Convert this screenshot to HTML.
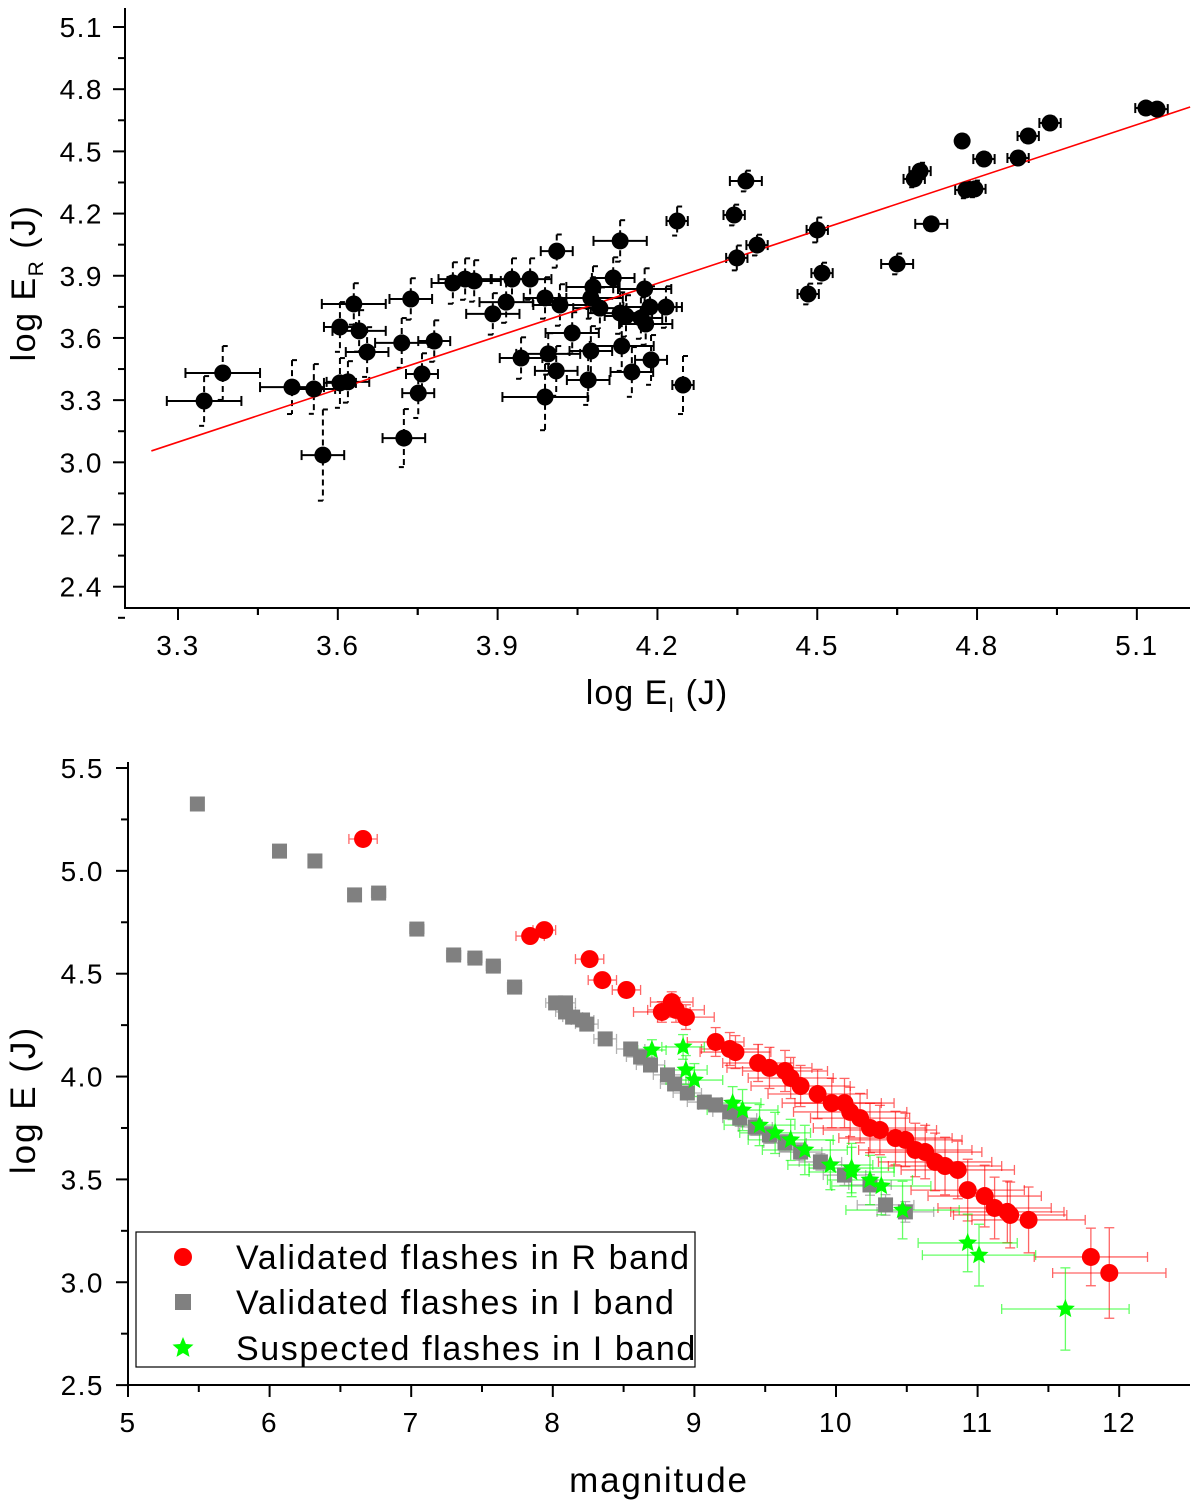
<!DOCTYPE html>
<html><head><meta charset="utf-8"><style>
body{margin:0;background:#fff}
svg text{font-family:"Liberation Sans",Arial,sans-serif;fill:#000}
</style></head><body>
<svg id="svg" width="1200" height="1507" viewBox="0 0 1200 1507" xmlns="http://www.w3.org/2000/svg">
<g id="top"></g>
<g id="bot"></g>
</svg>
<script>
// ---- top chart data ----
const topX=[3.349,3.384,3.514,3.555,3.572,3.604,3.619,3.604,3.630,3.640,3.655,3.720,3.724,3.737,3.751,3.758,3.781,3.816,3.839,3.856,3.891,3.916,3.927,3.944,3.961,3.989,3.989,4.010,3.995,4.011,4.017,4.040,4.070,4.075,4.075,4.079,4.092,4.117,4.130,4.133,4.130,4.152,4.141,4.169,4.176,4.178,4.186,4.188,4.216,4.237,4.248,4.344,4.349,4.366,4.387,4.483,4.500,4.509,4.650,4.682,4.693,4.714,4.772,4.779,4.796,4.813,4.877,4.896,4.937,5.117,5.138];
const topY=[3.296,3.431,3.363,3.354,3.035,3.383,3.388,3.653,3.764,3.634,3.532,3.576,3.117,3.788,3.334,3.426,3.585,3.865,3.884,3.875,3.716,3.773,3.884,3.503,3.884,3.793,3.315,3.441,3.523,4.019,3.759,3.624,3.397,3.537,3.793,3.846,3.744,3.889,4.068,3.561,3.720,3.436,3.706,3.696,3.836,3.667,3.749,3.494,3.749,4.164,3.373,4.193,3.986,4.357,4.048,3.812,4.121,3.913,3.957,4.367,4.405,4.150,4.550,4.314,4.319,4.463,4.468,4.574,4.637,4.709,4.704];
const topXErr=[0.07,0.07,0.06,0.04,0.04,0.03,0.04,0.03,0.06,0.05,0.04,0.05,0.04,0.04,0.03,0.03,0.03,0.04,0.05,0.05,0.05,0.05,0.04,0.04,0.04,0.04,0.08,0.04,0.06,0.03,0.05,0.05,0.04,0.04,0.06,0.05,0.05,0.04,0.05,0.06,0.06,0.04,0.04,0.04,0.05,0.05,0.05,0.03,0.03,0.02,0.02,0.02,0.02,0.03,0.02,0.02,0.02,0.02,0.03,0.02,0.02,0.03,0.01,0.02,0.02,0.02,0.02,0.02,0.02,0.02,0.02];
const topYErr=[0.12,0.13,0.13,0.12,0.22,0.12,0.10,0.12,0.10,0.10,0.12,0.12,0.14,0.10,0.12,0.10,0.10,0.10,0.10,0.10,0.10,0.10,0.10,0.10,0.10,0.10,0.16,0.12,0.10,0.08,0.10,0.10,0.12,0.12,0.10,0.10,0.10,0.10,0.10,0.12,0.10,0.12,0.10,0.10,0.10,0.10,0.10,0.12,0.10,0.07,0.14,0.05,0.06,0.05,0.05,0.05,0.06,0.05,0.05,0.04,0.04,0.03,0.03,0.04,0.04,0.03,0.03,0.03,0.03,0.02,0.02];
const fitX=[3.25,5.2];
const fitY=[3.055,4.714];
const topXTicks=[3.3,3.6,3.9,4.2,4.5,4.8,5.1];
const topYTicks=[2.4,2.7,3.0,3.3,3.6,3.9,4.2,4.5,4.8,5.1];
// ---- bottom chart data ----
const redX=[6.66,7.84,7.94,8.26,8.35,8.52,8.77,8.84,8.87,8.94,9.15,9.25,9.29,9.45,9.53,9.64,9.68,9.75,9.87,9.97,10.06,10.10,10.17,10.24,10.31,10.42,10.49,10.56,10.63,10.70,10.77,10.86,10.93,11.05,11.12,11.21,11.23,11.36,11.80,11.93];
const redY=[5.155,4.683,4.712,4.571,4.469,4.421,4.314,4.362,4.324,4.289,4.168,4.134,4.119,4.066,4.042,4.027,3.993,3.954,3.915,3.871,3.871,3.828,3.798,3.750,3.740,3.701,3.692,3.643,3.633,3.585,3.565,3.546,3.448,3.419,3.361,3.342,3.327,3.303,3.123,3.045];
const redXErr=[0.1,0.1,0.08,0.1,0.1,0.1,0.2,0.15,0.2,0.2,0.2,0.2,0.25,0.25,0.3,0.3,0.3,0.35,0.35,0.35,0.35,0.4,0.35,0.4,0.4,0.4,0.4,0.4,0.4,0.4,0.4,0.4,0.4,0.4,0.4,0.4,0.4,0.4,0.4,0.4];
const redYErr=[0.02,0.02,0.02,0.03,0.03,0.03,0.05,0.05,0.06,0.06,0.07,0.08,0.08,0.09,0.1,0.1,0.1,0.1,0.12,0.12,0.12,0.12,0.12,0.12,0.12,0.13,0.13,0.13,0.13,0.14,0.14,0.14,0.15,0.15,0.15,0.15,0.16,0.16,0.14,0.22];
const grayX=[5.49,6.07,6.32,6.60,6.77,7.04,7.30,7.45,7.58,7.73,8.02,8.09,8.09,8.14,8.21,8.24,8.37,8.55,8.62,8.69,8.81,8.86,8.95,9.07,9.15,9.25,9.32,9.43,9.53,9.64,9.75,9.89,10.06,10.24,10.35,10.49];
const grayY=[5.325,5.096,5.048,4.883,4.892,4.717,4.591,4.576,4.537,4.435,4.358,4.358,4.314,4.289,4.275,4.255,4.183,4.134,4.095,4.056,4.008,3.964,3.920,3.876,3.862,3.828,3.798,3.755,3.716,3.677,3.633,3.585,3.521,3.473,3.376,3.342];
const grayXErr=[0.03,0.03,0.03,0.03,0.05,0.05,0.05,0.05,0.05,0.05,0.07,0.07,0.07,0.07,0.08,0.08,0.08,0.1,0.1,0.1,0.1,0.1,0.1,0.12,0.12,0.12,0.12,0.12,0.15,0.15,0.15,0.15,0.15,0.15,0.2,0.2];
const grayYErr=[0.01,0.01,0.01,0.01,0.01,0.01,0.01,0.01,0.01,0.01,0.02,0.02,0.02,0.02,0.02,0.02,0.02,0.02,0.03,0.03,0.03,0.03,0.03,0.03,0.03,0.03,0.04,0.04,0.04,0.04,0.04,0.04,0.05,0.05,0.05,0.05];
const greenX=[8.70,8.92,8.94,9.00,9.27,9.34,9.46,9.57,9.68,9.78,9.96,10.11,10.11,10.24,10.32,10.47,10.93,11.01,11.62];
const greenY=[4.129,4.144,4.032,3.983,3.871,3.837,3.764,3.726,3.692,3.643,3.570,3.536,3.555,3.497,3.468,3.351,3.191,3.132,2.870];
const greenXErr=[0.1,0.15,0.15,0.2,0.2,0.25,0.25,0.25,0.3,0.3,0.3,0.3,0.3,0.3,0.35,0.4,0.35,0.4,0.45];
const greenYErr=[0.05,0.06,0.07,0.08,0.08,0.1,0.1,0.1,0.1,0.12,0.12,0.12,0.12,0.12,0.14,0.14,0.14,0.15,0.2];
const botXTicks=[5,6,7,8,9,10,11,12];
const botYTicks=[2.5,3.0,3.5,4.0,4.5,5.0,5.5];

const NS='http://www.w3.org/2000/svg';
function mk(p,t,a){const e=document.createElementNS(NS,t);for(const k in a)e.setAttribute(k,a[k]);p.appendChild(e);return e;}
function fmt(v,d){return v.toFixed(d);}

const tx=v=>178+(v-3.3)*532.7, ty=v=>27+(5.1-v)*207.3;
const bx=v=>128+(v-5)*141.6, by=v=>768+(5.5-v)*205.7;
const T=document.getElementById('top'), B=document.getElementById('bot');
const TK={'font-size':28,'letter-spacing':1.5};

let e=mk(T,'line',{x1:125,y1:8,x2:125,y2:609,stroke:'#000','stroke-width':2});

e=mk(T,'line',{x1:124,y1:608,x2:1190,y2:608,stroke:'#000','stroke-width':2});

topYTicks.forEach((v,i)=>{
  const y=ty(v);
  mk(T,'line',{x1:113,y1:y,x2:125,y2:y,stroke:'#000','stroke-width':2});
  if(i<topYTicks.length-1){const m=ty(v+0.15);mk(T,'line',{x1:118,y1:m,x2:125,y2:m,stroke:'#000','stroke-width':2});}
  const t=mk(T,'text',Object.assign({x:103,y:y+10,'text-anchor':'end'},TK));t.textContent=fmt(v,1);
  
});
const ym=ty(2.4-0.15);mk(T,'line',{x1:118,y1:ym,x2:125,y2:ym,stroke:'#000','stroke-width':2});
topXTicks.forEach((v,i)=>{
  const x=tx(v);
  mk(T,'line',{x1:x,y1:608,x2:x,y2:620,stroke:'#000','stroke-width':2});
  [v-0.15,v+0.15].forEach(m=>{const xm=tx(m);if(xm>125&&xm<1190)mk(T,'line',{x1:xm,y1:608,x2:xm,y2:615,stroke:'#000','stroke-width':2});});
  const t=mk(T,'text',Object.assign({x:x,y:655,'text-anchor':'middle'},TK));t.textContent=fmt(v,1);
  
});
e=mk(T,'text',{x:657,y:704,'text-anchor':'middle','font-size':34,'letter-spacing':1});
e.innerHTML='log E<tspan font-size="21" dy="8">I</tspan><tspan dy="-8"> (J)</tspan>';

e=mk(T,'text',{x:0,y:0,'text-anchor':'middle','font-size':34,'letter-spacing':1.5,transform:'translate(35,283) rotate(-90)'});
e.innerHTML='log E<tspan font-size="21" dy="8">R</tspan><tspan dy="-8"> (J)</tspan>';


topX.forEach((v,i)=>{
  const x=tx(v),y=ty(topY[i]),x1=tx(v-topXErr[i]),x2=tx(v+topXErr[i]),y1=ty(topY[i]+topYErr[i]),y2=ty(topY[i]-topYErr[i]);
  const g=mk(T,'g',{stroke:'#000','stroke-width':2,fill:'none'});
  
  mk(g,'line',{x1:x1,y1:y,x2:x2,y2:y});
  mk(g,'line',{x1:x1,y1:y-5,x2:x1,y2:y+5});mk(g,'line',{x1:x2,y1:y-5,x2:x2,y2:y+5});
  mk(g,'line',{x1:x,y1:y1,x2:x,y2:y2,'stroke-dasharray':'6,4'});
  mk(g,'line',{x1:x,y1:y1,x2:x+5,y2:y1});mk(g,'line',{x1:x-5,y1:y2,x2:x,y2:y2});
});
e=mk(T,'line',{x1:tx(fitX[0]),y1:ty(fitY[0]),x2:tx(fitX[1]),y2:ty(fitY[1]),stroke:'#f00','stroke-width':1.6});

topX.forEach((v,i)=>{
  const c=mk(T,'circle',{cx:tx(v),cy:ty(topY[i]),r:8.5,fill:'#000'});
  
  
});

e=mk(B,'line',{x1:128,y1:762,x2:128,y2:1386,stroke:'#000','stroke-width':2});

e=mk(B,'line',{x1:127,y1:1385,x2:1190,y2:1385,stroke:'#000','stroke-width':2});

botYTicks.forEach((v,i)=>{
  const y=by(v);
  mk(B,'line',{x1:116,y1:y,x2:128,y2:y,stroke:'#000','stroke-width':2});
  if(i<botYTicks.length-1){const m=by(v+0.25);mk(B,'line',{x1:121,y1:m,x2:128,y2:m,stroke:'#000','stroke-width':2});}
  const t=mk(B,'text',Object.assign({x:104,y:y+10,'text-anchor':'end'},TK));t.textContent=fmt(v,1);
  
});
botXTicks.forEach((v,i)=>{
  const x=bx(v);
  mk(B,'line',{x1:x,y1:1385,x2:x,y2:1397,stroke:'#000','stroke-width':2});
  const xm=bx(v+0.5);if(xm<1190)mk(B,'line',{x1:xm,y1:1385,x2:xm,y2:1392,stroke:'#000','stroke-width':2});
  const t=mk(B,'text',Object.assign({x:x,y:1432,'text-anchor':'middle'},TK));t.textContent=String(v);
  
});
e=mk(B,'text',{x:659,y:1492,'text-anchor':'middle','font-size':35,'letter-spacing':1.8});e.textContent='magnitude';

e=mk(B,'text',{x:0,y:0,'text-anchor':'middle','font-size':35,'letter-spacing':2,transform:'translate(35,1100) rotate(-90)'});e.textContent='log E (J)';


function errs(X,Y,XE,YE,col){
  X.forEach((v,i)=>{
    const x=bx(v),y=by(Y[i]),x1=bx(v-XE[i]),x2=bx(v+XE[i]),y1=by(Y[i]+YE[i]),y2=by(Y[i]-YE[i]);
    const g=mk(B,'g',{stroke:col,'stroke-width':1.3,fill:'none',opacity:0.6});
    
    mk(g,'line',{x1:x1,y1:y,x2:x2,y2:y});mk(g,'line',{x1:x,y1:y1,x2:x,y2:y2});
    mk(g,'line',{x1:x1,y1:y-5,x2:x1,y2:y+5});mk(g,'line',{x1:x2,y1:y-5,x2:x2,y2:y+5});
    mk(g,'line',{x1:x-5,y1:y1,x2:x+5,y2:y1});mk(g,'line',{x1:x-5,y1:y2,x2:x+5,y2:y2});
  });
}
function star(cx,cy,R,r){let p=[];for(let k=0;k<10;k++){const a=-Math.PI/2+k*Math.PI/5,rr=k%2?r:R;p.push((cx+rr*Math.cos(a)).toFixed(1)+','+(cy+rr*Math.sin(a)).toFixed(1));}return p.join(' ');}
errs(grayX,grayY,grayXErr,grayYErr,'#808080');
errs(redX,redY,redXErr,redYErr,'#f00');
errs(greenX,greenY,greenXErr,greenYErr,'#0f0');
grayX.forEach((v,i)=>{
  const s=mk(B,'rect',{x:bx(v)-7.5,y:by(grayY[i])-7.5,width:15,height:15,fill:'#808080'});
  
  
});
redX.forEach((v,i)=>{
  const c=mk(B,'circle',{cx:bx(v),cy:by(redY[i]),r:9,fill:'#f00'});
  
  
});
greenX.forEach((v,i)=>{
  const s=mk(B,'polygon',{points:star(bx(v),by(greenY[i]),10,4.5),fill:'#0f0'});
  
  
});

const L=mk(B,'g',{});

mk(L,'rect',{x:136,y:1232,width:559,height:135,fill:'#fff',stroke:'#000','stroke-width':1.2});
const labs=['Validated flashes in R band','Validated flashes in I band','Suspected flashes in I band'];
labs.forEach((s,i)=>{
  const y=[1257,1302,1348][i];
  const g=mk(L,'g',{});
  
  if(i==0)mk(g,'circle',{cx:183,cy:y,r:9,fill:'#f00'});
  if(i==1)mk(g,'rect',{x:175,y:y-8,width:16,height:16,fill:'#808080'});
  if(i==2)mk(g,'polygon',{points:star(183,y,11,5),fill:'#0f0'});
  const t=mk(g,'text',{x:236,y:y+12,'font-size':34,'letter-spacing':1.6});t.textContent=s;
});
</script>
</body></html>
